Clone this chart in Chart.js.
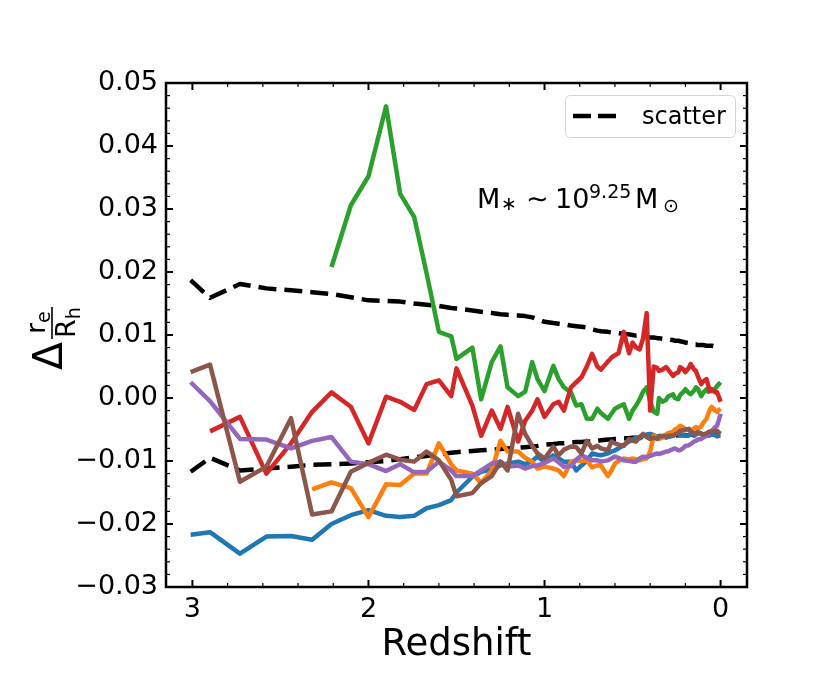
<!DOCTYPE html>
<html>
<head>
<meta charset="utf-8">
<script src="https://cdn.jsdelivr.net/npm/chart.js@4.4.0/dist/chart.umd.min.js"></script>
<style>
    html, body { margin: 0; padding: 0; background: #fff; }
    #wrap { width: 830px; height: 692px; }
</style>
</head>
<body>
<div id="wrap"><canvas id="chart" width="830" height="692"></canvas></div>
<script>
const FONT = "'DejaVu Sans', sans-serif";

// snapshot redshifts, high z first
const redshift = [
    3.01, 2.90, 2.73, 2.58, 2.44, 2.32, 2.21, 2.10, 2.00, 1.90,
    1.82, 1.74, 1.67, 1.60, 1.53, 1.50, 1.41, 1.36, 1.30, 1.25,
    1.21, 1.15, 1.11, 1.07, 1.04, 1.00, 0.95, 0.92, 0.89, 0.85,
    0.82, 0.79, 0.76, 0.73, 0.70, 0.68, 0.64, 0.62, 0.60, 0.58,
    0.55, 0.52, 0.50, 0.48, 0.46, 0.44, 0.42, 0.40, 0.38, 0.36,
    0.35, 0.33, 0.31, 0.30, 0.27, 0.26, 0.24, 0.23, 0.21, 0.20,
    0.18, 0.17, 0.15, 0.14, 0.13, 0.11, 0.10, 0.08, 0.07, 0.06,
    0.05, 0.03, 0.02, 0.01, 0.00
];

const scatterUpper = [
    0.0187, 0.0159, 0.0181, 0.0174, 0.0171, 0.0168, 0.0165, 0.0160, 0.0155, 0.0154,
    0.0153, 0.0150, 0.0148, 0.0146, 0.0143, 0.0142, 0.0139, 0.0137, 0.0135, 0.0133,
    0.0132, 0.0131, 0.0130, 0.0128, 0.0125, 0.0121, 0.0119, 0.0118, 0.0117, 0.0115,
    0.0114, 0.0113, 0.0112, 0.0109, 0.0107, 0.0106, 0.0105, 0.0104, 0.0103, 0.0103,
    0.0102, 0.0101, 0.0100, 0.0099, 0.0099, 0.0098, 0.0097, 0.0096, 0.0096, 0.0095,
    0.0095, 0.0094, 0.0094, 0.0093, 0.0092, 0.0091, 0.0091, 0.0090, 0.0089, 0.0088,
    0.0087, 0.0086, 0.0085, 0.0085, 0.0084, 0.0084, 0.0084, 0.0083, 0.0083, 0.0083,
    0.0083, 0.0082, 0.0082, 0.0082, 0.0082
];

const scatterLower = [
    -0.0117, -0.0095, -0.0115, -0.0112, -0.0109, -0.0106, -0.0105, -0.0104, -0.0102, -0.0100,
    -0.0097, -0.0094, -0.0092, -0.0089, -0.0087, -0.0086, -0.0084, -0.0083, -0.0082, -0.0081,
    -0.0080, -0.0079, -0.0078, -0.0077, -0.0076, -0.0074, -0.0073, -0.0072, -0.0072, -0.0071,
    -0.0070, -0.0070, -0.0069, -0.0069, -0.0068, -0.0067, -0.0066, -0.0066, -0.0065, -0.0065,
    -0.0064, -0.0064, -0.0063, -0.0063, -0.0063, -0.0062, -0.0062, -0.0062, -0.0061, -0.0061,
    -0.0061, -0.0061, -0.0060, -0.0060, -0.0060, -0.0060, -0.0059, -0.0059, -0.0059, -0.0059,
    -0.0059, -0.0058, -0.0058, -0.0058, -0.0058, -0.0058, -0.0058, -0.0058, -0.0058, -0.0058,
    -0.0058, -0.0058, -0.0058, -0.0058, -0.0058
];

const blueVals = [
    -0.0217, -0.0213, -0.0247, -0.0220, -0.0219, -0.0225, -0.0200, -0.0186, -0.0178, -0.0187,
    -0.0189, -0.0187, -0.0175, -0.0170, -0.0162, -0.0150, -0.0125, -0.0117, -0.0113, -0.0107,
    -0.0104, -0.0101, -0.0105, -0.0100, -0.0093, -0.0101, -0.0091, -0.0096, -0.0101, -0.0101,
    -0.0115, -0.0107, -0.0100, -0.0088, -0.0090, -0.0091, -0.0088, -0.0085, -0.0083, -0.0080,
    -0.0075, -0.0069, -0.0066, -0.0063, -0.0064, -0.0060, -0.0058, -0.0057, -0.0059, -0.0062,
    -0.0060, -0.0061, -0.0063, -0.0062, -0.0060, -0.0058, -0.0057, -0.0059, -0.0058, -0.0060,
    -0.0059, -0.0057, -0.0060, -0.0058, -0.0056, -0.0057, -0.0059, -0.0058, -0.0060, -0.0059,
    -0.0058, -0.0059, -0.0061, -0.0060, -0.0060
];

// starts at z = 2.32
const orangeVals = [
    -0.0145, -0.0134, -0.0143, -0.0189, -0.0137,
    -0.0138, -0.0120, -0.0120, -0.0072, -0.0105, -0.0115, -0.0120, -0.0135, -0.0115, -0.0068,
    -0.0085, -0.0085, -0.0095, -0.0101, -0.0112, -0.0109, -0.0112, -0.0115, -0.0124, -0.0101,
    -0.0099, -0.0100, -0.0099, -0.0110, -0.0107, -0.0107, -0.0124, -0.0115, -0.0104, -0.0100,
    -0.0096, -0.0098, -0.0096, -0.0097, -0.0099, -0.0097, -0.0096, -0.0085, -0.0060, -0.0062,
    -0.0065, -0.0063, -0.0058, -0.0056, -0.0054, -0.0050, -0.0047, -0.0044, -0.0047, -0.0051,
    -0.0050, -0.0052, -0.0048, -0.0046, -0.0049, -0.0045, -0.0040, -0.0033, -0.0025, -0.0018,
    -0.0014, -0.0020, -0.0022, -0.0019, -0.0017
];

// starts at z = 2.21
const greenVals = [
    0.0208, 0.0306, 0.0352, 0.0463,
    0.0324, 0.0287, 0.0198, 0.0105, 0.0098, 0.0062, 0.0080, -0.0002, 0.0057, 0.0082,
    0.0017, 0.0003, 0.0010, 0.0057, 0.0030, 0.0011, 0.0051, 0.0030, 0.0017, 0.0009,
    -0.0012, -0.0010, -0.0033, -0.0033, -0.0017, -0.0024, -0.0033, -0.0025, -0.0017, -0.0014,
    -0.0010, -0.0033, -0.0020, -0.0012, -0.0002, 0.0010, 0.0017, -0.0005, -0.0022, -0.0025,
    0.0000, -0.0006, -0.0003, 0.0002, 0.0006, 0.0000, -0.0002, 0.0005, 0.0010, 0.0014,
    0.0008, 0.0006, 0.0012, 0.0017, 0.0015, 0.0003, 0.0008, 0.0014, 0.0010, 0.0012,
    0.0011, 0.0015, 0.0019, 0.0022, 0.0025
];

// starts at z = 2.90
const redVals = [
    -0.0053, -0.0030, -0.0120, -0.0072, -0.0022, 0.0009, -0.0014, -0.0072, 0.0002,
    -0.0006, -0.0019, 0.0022, 0.0028, 0.0003, 0.0047, -0.0012, -0.0060, -0.0020, -0.0049,
    -0.0014, -0.0069, -0.0036, -0.0020, -0.0002, -0.0030, -0.0010, -0.0006, -0.0020, 0.0017,
    0.0025, 0.0033, 0.0050, 0.0070, 0.0050, 0.0045, 0.0058, 0.0064, 0.0068, 0.0071,
    0.0105, 0.0071, 0.0088, 0.0080, 0.0077, 0.0095, 0.0135, -0.0020, 0.0050, 0.0048,
    0.0043, 0.0045, 0.0049, 0.0046, 0.0035, 0.0038, 0.0041, 0.0049, 0.0045, 0.0041,
    0.0048, 0.0054, 0.0045, 0.0043, 0.0035, 0.0022, 0.0026, 0.0030, 0.0020, 0.0011,
    0.0014, 0.0009, 0.0009, 0.0002, -0.0006
];

const purpleVals = [
    0.0025, -0.0005, -0.0065, -0.0066, -0.0080, -0.0068, -0.0062, -0.0101, -0.0105, -0.0116,
    -0.0105, -0.0118, -0.0117, -0.0101, -0.0115, -0.0124, -0.0124, -0.0115, -0.0104, -0.0101,
    -0.0109, -0.0107, -0.0112, -0.0108, -0.0107, -0.0103, -0.0096, -0.0102, -0.0109, -0.0108,
    -0.0098, -0.0091, -0.0095, -0.0099, -0.0099, -0.0101, -0.0099, -0.0096, -0.0093, -0.0095,
    -0.0099, -0.0100, -0.0101, -0.0101, -0.0096, -0.0093, -0.0094, -0.0092, -0.0090, -0.0088,
    -0.0089, -0.0087, -0.0085, -0.0085, -0.0081, -0.0080, -0.0083, -0.0083, -0.0079, -0.0076,
    -0.0075, -0.0073, -0.0069, -0.0068, -0.0066, -0.0065, -0.0063, -0.0060, -0.0057, -0.0054,
    -0.0052, -0.0046, -0.0044, -0.0035, -0.0025
];

const brownVals = [
    0.0041, 0.0053, -0.0133, -0.0109, -0.0032, -0.0185, -0.0180, -0.0117, -0.0103, -0.0090,
    -0.0098, -0.0101, -0.0085, -0.0099, -0.0130, -0.0156, -0.0151, -0.0135, -0.0124, -0.0101,
    -0.0115, -0.0025, -0.0057, -0.0076, -0.0088, -0.0096, -0.0077, -0.0091, -0.0082, -0.0077,
    -0.0078, -0.0088, -0.0068, -0.0080, -0.0076, -0.0080, -0.0083, -0.0069, -0.0072, -0.0074,
    -0.0076, -0.0065, -0.0068, -0.0069, -0.0062, -0.0057, -0.0062, -0.0065, -0.0063, -0.0065,
    -0.0062, -0.0060, -0.0061, -0.0060, -0.0060, -0.0058, -0.0055, -0.0052, -0.0051, -0.0050,
    -0.0049, -0.0053, -0.0057, -0.0055, -0.0054, -0.0056, -0.0058, -0.0056, -0.0054, -0.0053,
    -0.0054, -0.0052, -0.0052, -0.0055, -0.0057
];

const xMajorTicks = [3, 2, 1, 0];
const yMajorTicks = [-0.03, -0.02, -0.01, 0.00, 0.01, 0.02, 0.03, 0.04, 0.05];
const xTitle = 'Redshift';
const legendLabel = 'scatter';

// series are aligned to the low-z end of the redshift list
function toPoints(values) {
    const zs = redshift.slice(redshift.length - values.length);
    return values.map((v, i) => ({ x: zs[i], y: v }));
}

function formatY(v) {
    const s = Math.abs(v).toFixed(2);
    return v < -1e-9 ? '\u2212' + s : s;
}

const frameAndTicks = {
    id: 'frameAndTicks',
    afterDatasetsDraw(chart) {
        const { ctx, chartArea: a, scales: { x, y } } = chart;
        const seg = (x1, y1, x2, y2) => {
            ctx.beginPath();
            ctx.moveTo(x1, y1);
            ctx.lineTo(x2, y2);
            ctx.stroke();
        };
        ctx.save();
        ctx.strokeStyle = '#000';

        const xMinor = [];
        for (let i = 1; i <= 15; i++) if (i % 5 !== 0) xMinor.push(i * 0.2);
        const yMinor = [];
        for (let i = -14; i <= 24; i++) if (i % 5 !== 0) yMinor.push(i * 0.002);

        ctx.lineWidth = 1.2;
        xMinor.forEach(v => {
            const p = x.getPixelForValue(v);
            seg(p, a.bottom, p, a.bottom - 4);
            seg(p, a.top, p, a.top + 4);
        });
        yMinor.forEach(v => {
            const p = y.getPixelForValue(v);
            seg(a.left, p, a.left + 4, p);
            seg(a.right, p, a.right - 4, p);
        });

        ctx.lineWidth = 2;
        xMajorTicks.forEach(v => {
            const p = x.getPixelForValue(v);
            seg(p, a.bottom, p, a.bottom - 7);
            seg(p, a.top, p, a.top + 7);
        });
        yMajorTicks.forEach(v => {
            const p = y.getPixelForValue(v);
            seg(a.left, p, a.left + 7, p);
            seg(a.right, p, a.right - 7, p);
        });

        ctx.lineWidth = 2.5;
        ctx.strokeRect(a.left, a.top, a.right - a.left, a.bottom - a.top);

        // legend
        ctx.fillStyle = 'rgba(255,255,255,0.85)';
        ctx.strokeStyle = '#d4d4d4';
        ctx.lineWidth = 1;
        ctx.beginPath();
        ctx.roundRect(565.5, 95.5, 170, 42, 5);
        ctx.fill();
        ctx.stroke();
        ctx.strokeStyle = '#000';
        ctx.lineWidth = 4.5;
        ctx.setLineDash([18, 7]);
        seg(573, 116, 617, 116);
        ctx.setLineDash([]);
        ctx.fillStyle = '#000';
        ctx.font = `24px ${FONT}`;
        ctx.textAlign = 'left';
        ctx.textBaseline = 'alphabetic';
        ctx.fillText(legendLabel, 642, 124);

        ctx.restore();
    }
};

const textLayer = {
    id: 'textLayer',
    afterDraw(chart) {
        const { ctx, chartArea: a } = chart;
        ctx.save();
        ctx.fillStyle = '#000';
        ctx.strokeStyle = '#000';
        ctx.textBaseline = 'alphabetic';

        ctx.font = `37px ${FONT}`;
        ctx.textAlign = 'center';
        ctx.fillText(xTitle, (a.left + a.right) / 2, 655);

        // y label: Delta r_e / R_h, rotated
        ctx.save();
        ctx.translate(62, 370);
        ctx.rotate(-Math.PI / 2);
        ctx.textAlign = 'left';
        ctx.font = `41px ${FONT}`;
        ctx.fillText('\u0394', 0, 0);
        ctx.lineWidth = 1.6;
        ctx.beginPath();
        ctx.moveTo(31, -10);
        ctx.lineTo(63, -10);
        ctx.stroke();
        ctx.font = `27px ${FONT}`;
        ctx.fillText('r', 36, -17);
        const rw = ctx.measureText('r').width;
        ctx.fillText('R', 32, 13);
        const Rw = ctx.measureText('R').width;
        ctx.font = `19px ${FONT}`;
        ctx.fillText('e', 36 + rw, -12);
        ctx.fillText('h', 32 + Rw, 18);
        ctx.restore();

        // annotation M* ~ 10^9.25 Msun
        ctx.textAlign = 'left';
        const parts = [
            ['M', 27, 477, 208],
            ['\u2217', 19, 501, 210],
            ['\u223C', 27, 526, 208],
            ['10', 27, 555, 208],
            ['9.25', 19, 589, 198],
            ['M', 27, 635, 208],
            ['\u2299', 19, 663, 212]
        ];
        parts.forEach(([t, size, px, py]) => {
            ctx.font = `${size}px ${FONT}`;
            ctx.fillText(t, px, py);
        });
        ctx.restore();
    }
};

const lineStyle = (color, order) => ({
    borderColor: color,
    backgroundColor: color,
    borderWidth: 4.5,
    borderJoinStyle: 'round',
    borderCapStyle: 'butt',
    fill: false,
    order: order
});

new Chart(document.getElementById('chart'), {
    type: 'line',
    data: {
        datasets: [
            { label: legendLabel, data: toPoints(scatterUpper), ...lineStyle('#000000', 8), borderDash: [18, 8] },
            { label: 'scatter low', data: toPoints(scatterLower), ...lineStyle('#000000', 7), borderDash: [18, 8] },
            { label: 'C0', data: toPoints(blueVals), ...lineStyle('#1f77b4', 6) },
            { label: 'C1', data: toPoints(orangeVals), ...lineStyle('#ff7f0e', 5) },
            { label: 'C2', data: toPoints(greenVals), ...lineStyle('#2ca02c', 4) },
            { label: 'C3', data: toPoints(redVals), ...lineStyle('#d62728', 3) },
            { label: 'C4', data: toPoints(purpleVals), ...lineStyle('#9467bd', 2) },
            { label: 'C5', data: toPoints(brownVals), ...lineStyle('#8c564b', 1) }
        ]
    },
    options: {
        responsive: false,
        animation: false,
        devicePixelRatio: 1,
        layout: { padding: { top: 83, right: 83, left: 0, bottom: 0 } },
        elements: {
            point: { radius: 0, hoverRadius: 0 },
            line: { tension: 0 }
        },
        plugins: {
            legend: { display: false },
            tooltip: { enabled: false }
        },
        scales: {
            x: {
                type: 'linear',
                reverse: true,
                min: -0.15,
                max: 3.15,
                afterBuildTicks: s => { s.ticks = xMajorTicks.map(v => ({ value: v })); },
                afterFit: s => { s.height = 105; },
                grid: { display: false, drawTicks: false },
                border: { display: false },
                ticks: {
                    color: '#000',
                    font: { family: FONT, size: 27 },
                    padding: 7,
                    maxRotation: 0,
                    autoSkip: false,
                    callback: v => String(v)
                }
            },
            y: {
                type: 'linear',
                min: -0.03,
                max: 0.05,
                afterBuildTicks: s => { s.ticks = yMajorTicks.map(v => ({ value: v })); },
                afterFit: s => { s.width = 166; },
                grid: { display: false, drawTicks: false },
                border: { display: false },
                ticks: {
                    color: '#000',
                    font: { family: FONT, size: 27 },
                    padding: 8,
                    autoSkip: false,
                    callback: v => formatY(v)
                }
            }
        }
    },
    plugins: [frameAndTicks, textLayer]
});
</script>
</body>
</html>
